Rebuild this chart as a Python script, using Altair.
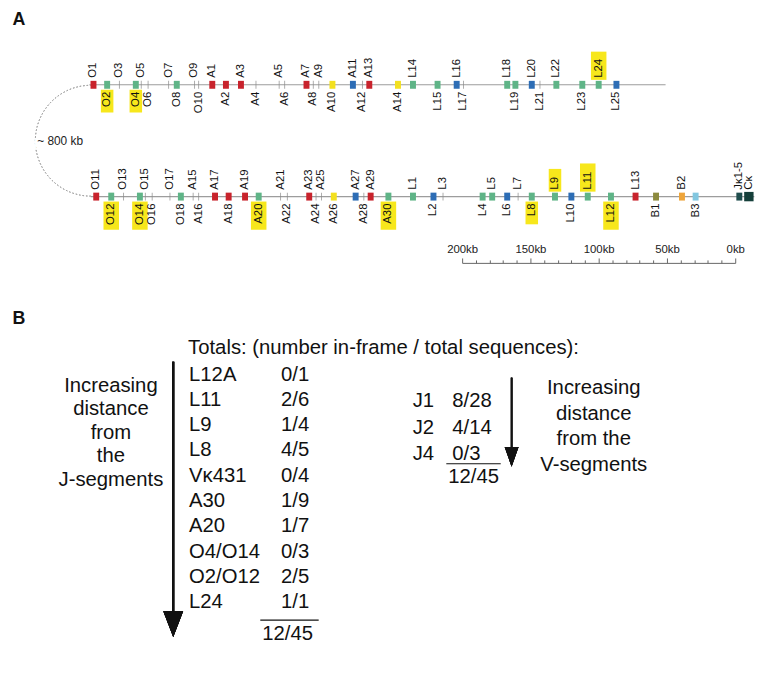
import math
import altair as alt
import pandas as pd

# ---------------- Panel A: kappa locus map ----------------
TOP_GENES = ["O1", "O2", "O3", "O4", "O5", "O6", "O7", "O8", "O9", "O10",
             "A1", "A2", "A3", "A4", "A5", "A6", "A7", "A8", "A9", "A10", "A11", "A12", "A13", "A14",
             "L14", "L15", "L16", "L17", "L18", "L19", "L20", "L21", "L22", "L23", "L24", "L25"]
TOP_KB = [470, 460, 451, 439, 435, 430, 415, 409, 396, 393,
          383, 373, 362, 351, 334, 330, 314, 309, 305, 295, 280, 273, 268, 247,
          236, 218, 204, 199, 167, 161, 149, 143, 131, 112, 100, 87]
TOP_KIND = ["red", "green", "pseudo", "green", "pseudo", "pseudo", "pseudo", "green", "pseudo", "pseudo",
            "red", "red", "red", "pseudo", "pseudo", "pseudo", "red", "pseudo", "pseudo", "yellow", "blue", "pseudo", "red", "yellow",
            "green", "green", "blue", "pseudo", "green", "green", "blue", "pseudo", "green", "green", "green", "blue"]
TOP_SIDE = ["above", "below"] * 18

BOTTOM_GENES = ["O11", "O12", "O13", "O14", "O15", "O16", "O17", "O18",
                "A15", "A16", "A17", "A18", "A19", "A20", "A21", "A22", "A23", "A24", "A25", "A26", "A27", "A28", "A29", "A30",
                "L1", "L2", "L3", "L4", "L5", "L6", "L7", "L8", "L9", "L10", "L11", "L12", "L13",
                "B1", "B2", "B3", "Jκ1-5", "Cκ"]
BOTTOM_KB = [468, 457, 448, 436, 432, 427, 414, 406,
             397, 393, 381, 371, 359, 349, 333, 328, 312, 307, 303, 294, 278, 272, 267, 254,
             236, 221, 214, 185, 178, 167, 159, 149, 132, 120, 108, 91, 73,
             58, 39, 29, -3, -10]
BOTTOM_KIND = ["red", "green", "pseudo", "green", "pseudo", "pseudo", "pseudo", "green",
               "pseudo", "pseudo", "red", "red", "red", "green", "pseudo", "pseudo", "red", "pseudo", "pseudo", "yellow", "blue", "pseudo", "red", "green",
               "green", "blue", "pseudo", "green", "green", "blue", "pseudo", "green", "green", "blue", "green", "green", "red",
               "olive", "orange", "ltblue", "jk", "ck"]
BOTTOM_SIDE = ["above", "below"] * 20 + ["above", "above"]

HIGHLIGHTED = ["O2", "O4", "L24", "O12", "O14", "A20", "A30", "L8", "L9", "L11", "L12"]

KIND_DOMAIN = ["red", "green", "blue", "yellow", "olive", "orange", "ltblue", "jk", "ck"]
KIND_COLORS = ["#c8232c", "#5fb487", "#2d6db5", "#f3e01f", "#8c8a3e", "#eea53b", "#82c7e0", "#1f4d4d", "#153f3a"]

LINE_ROW = [0, 1]
LINE_START_KB = [473, 472]
LINE_END_KB = [51, -14]

GAP_LABEL = "~ 800 kb"
GAP_KB = [472]
GAP_ROW = [0.5]

SCALE_TICKS_KB = [0, 10, 20, 30, 40, 50, 60, 70, 80, 90, 100,
                  110, 120, 130, 140, 150, 160, 170, 180, 190, 200]

# ---------------- Panel B: totals ----------------
PANEL_B_TITLE = "Totals: (number in-frame / total sequences):"
V_SEGMENTS = ["L12A", "L11", "L9", "L8", "Vκ431", "A30", "A20", "O4/O14", "O2/O12", "L24"]
V_COUNTS = ["0/1", "2/6", "1/4", "4/5", "0/4", "1/9", "1/7", "0/3", "2/5", "1/1"]
V_TOTAL = "12/45"
J_SEGMENTS = ["J1", "J2", "J4"]
J_COUNTS = ["8/28", "4/14", "0/3"]
J_TOTAL = "12/45"
LEFT_ARROW_TEXT = ["Increasing", "distance", "from", "the", "J-segments"]
RIGHT_ARROW_TEXT = ["Increasing", "distance", "from the", "V-segments"]

FONT = "Liberation Sans"

genes = pd.DataFrame({
    "name": TOP_GENES + BOTTOM_GENES,
    "kb": TOP_KB + BOTTOM_KB,
    "row": [0] * len(TOP_GENES) + [1] * len(BOTTOM_GENES),
    "kind": TOP_KIND + BOTTOM_KIND,
    "side": TOP_SIDE + BOTTOM_SIDE,
})
genes["hl"] = genes["name"].isin(HIGHLIGHTED)
lines = pd.DataFrame({"row": LINE_ROW, "start": LINE_START_KB, "end": LINE_END_KB})
gap = pd.DataFrame({"kb": GAP_KB, "row": GAP_ROW, "t": [GAP_LABEL]})

XS = alt.Scale(domain=[0, 200], range=[735, 459], nice=False, zero=False)
YS = alt.Scale(domain=[0, 1], range=[74, 187], nice=False, zero=False)


def xa(f="kb"):
    return alt.X(f"{f}:Q", scale=XS, axis=None)


def ya(f="row"):
    return alt.Y(f"{f}:Q", scale=YS, axis=None)


base = alt.Chart(genes)
layers = []

layers.append(alt.Chart(lines).mark_rule(color="#9d9d9d", strokeWidth=1.1).encode(
    x=xa("start"), x2="end:Q", y=ya()))

layers.append(alt.Chart(gap).mark_arc(filled=False, color="#a0a0a0", strokeWidth=1, strokeDash=[1.5, 2],
                                      radius=56, radius2=56, theta=math.pi, theta2=2 * math.pi).encode(
    x=xa(), y=ya()))
layers.append(alt.Chart(gap).mark_text(font=FONT, fontSize=12, dx=-31, color="white", stroke="white",
                                       strokeWidth=6).encode(x=xa(), y=ya(), text="t:N"))
layers.append(alt.Chart(gap).mark_text(font=FONT, fontSize=12, dx=-31, color="#222").encode(
    x=xa(), y=ya(), text="t:N"))

layers.append(base.transform_filter("datum.kind == 'pseudo'").mark_tick(
    orient="vertical", size=8, thickness=1, color="#8a8a8a").encode(x=xa(), y=ya()))

layers.append(base.transform_filter("datum.kind != 'pseudo' && datum.kind != 'ck'").mark_point(
    shape="M-0.75,-1H0.75V1H-0.75Z", size=64, filled=True, opacity=1, strokeWidth=0).encode(
    x=xa(), y=ya(),
    color=alt.Color("kind:N", scale=alt.Scale(domain=KIND_DOMAIN, range=KIND_COLORS), legend=None)))
layers.append(base.transform_filter("datum.kind == 'ck'").mark_point(
    shape="square", size=90, filled=True, opacity=1, strokeWidth=0, color="#153f3a").encode(x=xa(), y=ya()))

for side, path, off in [("above", "M-0.55,-2H0.55V0H-0.55Z", -5), ("below", "M-0.55,0H0.55V2H-0.55Z", 5)]:
    layers.append(base.transform_filter(f"datum.hl && datum.side == '{side}'").transform_calculate(
        hh="length(datum.name) * 5.5 + 12").transform_calculate(sz="datum.hh * datum.hh").mark_point(
        shape=path, filled=True, opacity=1, strokeWidth=0, color="#f7e71c", yOffset=off).encode(
        x=xa(), y=ya(), size=alt.Size("sz:Q", scale=None)))

for side, align, dx in [("above", "left", 7), ("below", "right", -7)]:
    layers.append(base.transform_filter(f"datum.side == '{side}'").mark_text(
        angle=270, align=align, baseline="middle", dx=dx, font=FONT, fontSize=11.5, color="#111").encode(
        x=xa(), y=ya(), text="name:N"))

# scale bar through the x axis
layers.append(alt.Chart(pd.DataFrame({"kb": SCALE_TICKS_KB})).mark_point(opacity=0).encode(
    x=alt.X("kb:Q", scale=XS, axis=alt.Axis(
        orient="top", offset=-254, values=SCALE_TICKS_KB, title="",
        labelExpr="datum.value % 50 === 0 ? datum.value + 'kb' : ''",
        tickSize={"condition": {"test": "datum.value % 50 === 0", "value": 5}, "value": 3},
        labelFont=FONT, labelFontSize=11.5, labelColor="#222", labelPadding=3,
        labelFlush=False, labelOverlap=False, labelAngle=0,
        tickColor="#666", domainColor="#666", tickWidth=1, domainWidth=1, grid=False))))

# panel letters
for letter, py in [("A", 9), ("B", 311)]:
    layers.append(alt.Chart(pd.DataFrame({"t": [letter]})).mark_text(
        font=FONT, fontSize=18, fontWeight="bold", align="center", baseline="middle", color="#111").encode(
        x=alt.value(11), y=alt.value(py), text="t:N"))

# ---------------- Panel B ----------------
txt = dict(font=FONT, fontSize=20.5, color="#111", baseline="middle")
layers.append(alt.Chart(pd.DataFrame({"t": [PANEL_B_TITLE]})).mark_text(align="left", **txt).encode(
    x=alt.value(182), y=alt.value(340), text="t:N"))

vdf = pd.DataFrame({"seg": V_SEGMENTS, "cnt": V_COUNTS})
VY = alt.Scale(domain=V_SEGMENTS, range=[367, 597], padding=0)
layers.append(alt.Chart(vdf).mark_text(align="left", **txt).encode(
    x=alt.value(183), y=alt.Y("seg:N", scale=VY, axis=None), text="seg:N"))
layers.append(alt.Chart(vdf).mark_text(align="left", **txt).encode(
    x=alt.value(276), y=alt.Y("seg:N", scale=VY, axis=None), text="cnt:N"))
layers.append(alt.Chart(pd.DataFrame({"t": [V_TOTAL]})).mark_text(align="left", **txt).encode(
    x=alt.value(257), y=alt.value(629), text="t:N"))
layers.append(alt.Chart(pd.DataFrame({"t": [V_TOTAL]})).mark_rule(color="#111", strokeWidth=1.2).encode(
    x=alt.value(255), x2=alt.value(314), y=alt.value(615)))

jdf = pd.DataFrame({"seg": J_SEGMENTS, "cnt": J_COUNTS})
JY = alt.Scale(domain=J_SEGMENTS, range=[394, 447], padding=0)
layers.append(alt.Chart(jdf).mark_text(align="left", **txt).encode(
    x=alt.value(409), y=alt.Y("seg:N", scale=JY, axis=None), text="seg:N"))
layers.append(alt.Chart(jdf).mark_text(align="left", **txt).encode(
    x=alt.value(449), y=alt.Y("seg:N", scale=JY, axis=None), text="cnt:N"))
layers.append(alt.Chart(pd.DataFrame({"t": [J_TOTAL]})).mark_text(align="left", **txt).encode(
    x=alt.value(445), y=alt.value(470), text="t:N"))
layers.append(alt.Chart(pd.DataFrame({"t": [J_TOTAL]})).mark_rule(color="#111", strokeWidth=1.2).encode(
    x=alt.value(443), x2=alt.value(498), y=alt.value(457)))

ldf = pd.DataFrame({"t": LEFT_ARROW_TEXT})
layers.append(alt.Chart(ldf).mark_text(align="center", **txt).encode(
    x=alt.value(104), y=alt.Y("t:N", scale=alt.Scale(domain=LEFT_ARROW_TEXT, range=[378, 473], padding=0), axis=None),
    text="t:N"))
rdf = pd.DataFrame({"t": RIGHT_ARROW_TEXT})
layers.append(alt.Chart(rdf).mark_text(align="center", **txt).encode(
    x=alt.value(592), y=alt.Y("t:N", scale=alt.Scale(domain=RIGHT_ARROW_TEXT, range=[381, 458], padding=0), axis=None),
    text="t:N"))

# arrows
layers.append(alt.Chart(ldf).mark_rule(color="#111", strokeWidth=2).encode(
    x=alt.value(167), y=alt.value(354), y2=alt.value(612)))
layers.append(alt.Chart(ldf).mark_point(shape="M-0.77,-1H0.77L0,1Z", size=676, filled=True, opacity=1,
                                        strokeWidth=0, color="#111").encode(x=alt.value(167), y=alt.value(619)))
layers.append(alt.Chart(rdf).mark_rule(color="#111", strokeWidth=1.6).encode(
    x=alt.value(509), y=alt.value(370), y2=alt.value(444)))
layers.append(alt.Chart(rdf).mark_point(shape="M-0.7,-1H0.7L0,1Z", size=400, filled=True, opacity=1,
                                        strokeWidth=0, color="#111").encode(x=alt.value(509), y=alt.value(450)))

chart = alt.layer(*layers).resolve_scale(
    x="independent", y="independent", color="independent", size="independent"
).properties(width=756, height=677, autosize="none", padding=0).configure_view(stroke=None)

chart.save("out.html", embed_options={"renderer": "svg", "actions": False})
